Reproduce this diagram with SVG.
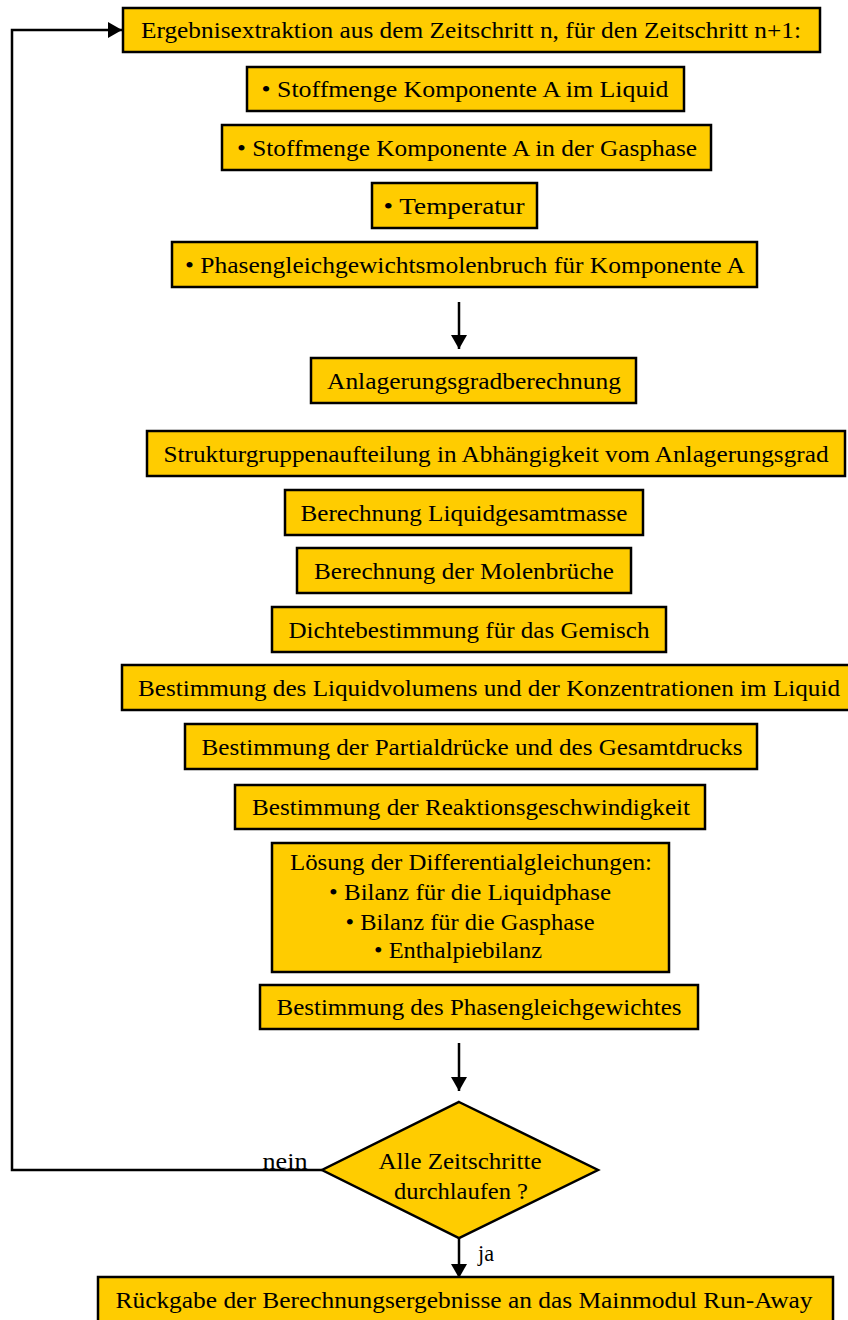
<svg xmlns="http://www.w3.org/2000/svg" width="848" height="1320" viewBox="0 0 848 1320">
<defs>
<marker id="ah" viewBox="0 0 14 16" refX="14" refY="8" markerWidth="14" markerHeight="16" markerUnits="userSpaceOnUse" orient="auto"><path d="M0,0 L14,8 L0,16 z" fill="#000"/></marker>
<style>
.b{fill:#FFCC00;stroke:#000;stroke-width:2.5}
.t{font-family:"Liberation Serif","Times New Roman",serif;font-size:24px;fill:#000;text-anchor:middle}
.c{fill:none;stroke:#000;stroke-width:2.5}
</style>
</defs>
<rect width="848" height="1320" fill="#fff"/>
<g id="connectors">
<line class="c" x1="459" y1="302" x2="459" y2="349" marker-end="url(#ah)"/>
<line class="c" x1="459" y1="1043" x2="459" y2="1091" marker-end="url(#ah)"/>
<line class="c" x1="459" y1="1238" x2="459" y2="1278" marker-end="url(#ah)"/>
<polyline class="c" points="322,1170 12,1170 12,30 122,30" marker-end="url(#ah)"/>
<text class="t" x="285" y="1169" textLength="45" lengthAdjust="spacingAndGlyphs">nein</text>
<text class="t" x="486" y="1261" textLength="16" lengthAdjust="spacingAndGlyphs">ja</text>
</g>
<g id="n1"><rect class="b" x="123" y="8" width="697" height="44"/><text class="t" x="471" y="38" textLength="660" lengthAdjust="spacingAndGlyphs">Ergebnisextraktion aus dem Zeitschritt n, für den Zeitschritt n+1:</text></g>
<g id="n2"><rect class="b" x="247" y="67" width="437" height="44"/><text class="t" x="465" y="97" textLength="407" lengthAdjust="spacingAndGlyphs">• Stoffmenge Komponente A im Liquid</text></g>
<g id="n3"><rect class="b" x="222" y="125" width="489" height="45"/><text class="t" x="467" y="156" textLength="460" lengthAdjust="spacingAndGlyphs">• Stoffmenge Komponente A in der Gasphase</text></g>
<g id="n4"><rect class="b" x="372" y="183" width="165" height="45"/><text class="t" x="454" y="214" textLength="141" lengthAdjust="spacingAndGlyphs">• Temperatur</text></g>
<g id="n5"><rect class="b" x="172" y="242" width="585" height="45"/><text class="t" x="465" y="273" textLength="560" lengthAdjust="spacingAndGlyphs">• Phasengleichgewichtsmolenbruch für Komponente A</text></g>
<g id="n6"><rect class="b" x="311" y="358" width="325" height="45"/><text class="t" x="474" y="389" textLength="294" lengthAdjust="spacingAndGlyphs">Anlagerungsgradberechnung</text></g>
<g id="n7"><rect class="b" x="147" y="431" width="698" height="45"/><text class="t" x="496" y="462" textLength="665" lengthAdjust="spacingAndGlyphs">Strukturgruppenaufteilung in Abhängigkeit vom Anlagerungsgrad</text></g>
<g id="n8"><rect class="b" x="285" y="490" width="358" height="45"/><text class="t" x="464" y="521" textLength="327" lengthAdjust="spacingAndGlyphs">Berechnung Liquidgesamtmasse</text></g>
<g id="n9"><rect class="b" x="297" y="548" width="334" height="45"/><text class="t" x="464" y="579" textLength="300" lengthAdjust="spacingAndGlyphs">Berechnung der Molenbrüche</text></g>
<g id="n10"><rect class="b" x="272" y="607" width="394" height="45"/><text class="t" x="469" y="638" textLength="361" lengthAdjust="spacingAndGlyphs">Dichtebestimmung für das Gemisch</text></g>
<g id="n11"><rect class="b" x="122" y="665" width="730" height="45"/><text class="t" x="489" y="696" textLength="702" lengthAdjust="spacingAndGlyphs">Bestimmung des Liquidvolumens und der Konzentrationen im Liquid</text></g>
<g id="n12"><rect class="b" x="185" y="724" width="572" height="45"/><text class="t" x="472" y="755" textLength="541" lengthAdjust="spacingAndGlyphs">Bestimmung der Partialdrücke und des Gesamtdrucks</text></g>
<g id="n13"><rect class="b" x="235" y="785" width="470" height="44"/><text class="t" x="471" y="815" textLength="438" lengthAdjust="spacingAndGlyphs">Bestimmung der Reaktionsgeschwindigkeit</text></g>
<g id="n14"><rect class="b" x="272" y="843" width="397" height="129"/>
<text class="t" x="471" y="870" textLength="362" lengthAdjust="spacingAndGlyphs">Lösung der Differentialgleichungen:</text>
<text class="t" x="470" y="900" textLength="282" lengthAdjust="spacingAndGlyphs">• Bilanz für die Liquidphase</text>
<text class="t" x="470" y="930" textLength="249" lengthAdjust="spacingAndGlyphs">• Bilanz für die Gasphase</text>
<text class="t" x="458" y="958" textLength="168" lengthAdjust="spacingAndGlyphs">• Enthalpiebilanz</text></g>
<g id="n15"><rect class="b" x="260" y="985" width="438" height="44"/><text class="t" x="479" y="1015" textLength="405" lengthAdjust="spacingAndGlyphs">Bestimmung des Phasengleichgewichtes</text></g>
<g id="n16"><polygon class="b" points="459,1102 598,1170 459,1238 322,1170"/>
<text class="t" x="460" y="1169" textLength="163" lengthAdjust="spacingAndGlyphs">Alle Zeitschritte</text>
<text class="t" x="461" y="1199" textLength="134" lengthAdjust="spacingAndGlyphs">durchlaufen ?</text></g>
<g id="n17"><rect class="b" x="98" y="1277" width="735" height="50"/><text class="t" x="464" y="1308" textLength="697" lengthAdjust="spacingAndGlyphs">Rückgabe der Berechnungsergebnisse an das Mainmodul Run-Away</text></g>
</svg>
